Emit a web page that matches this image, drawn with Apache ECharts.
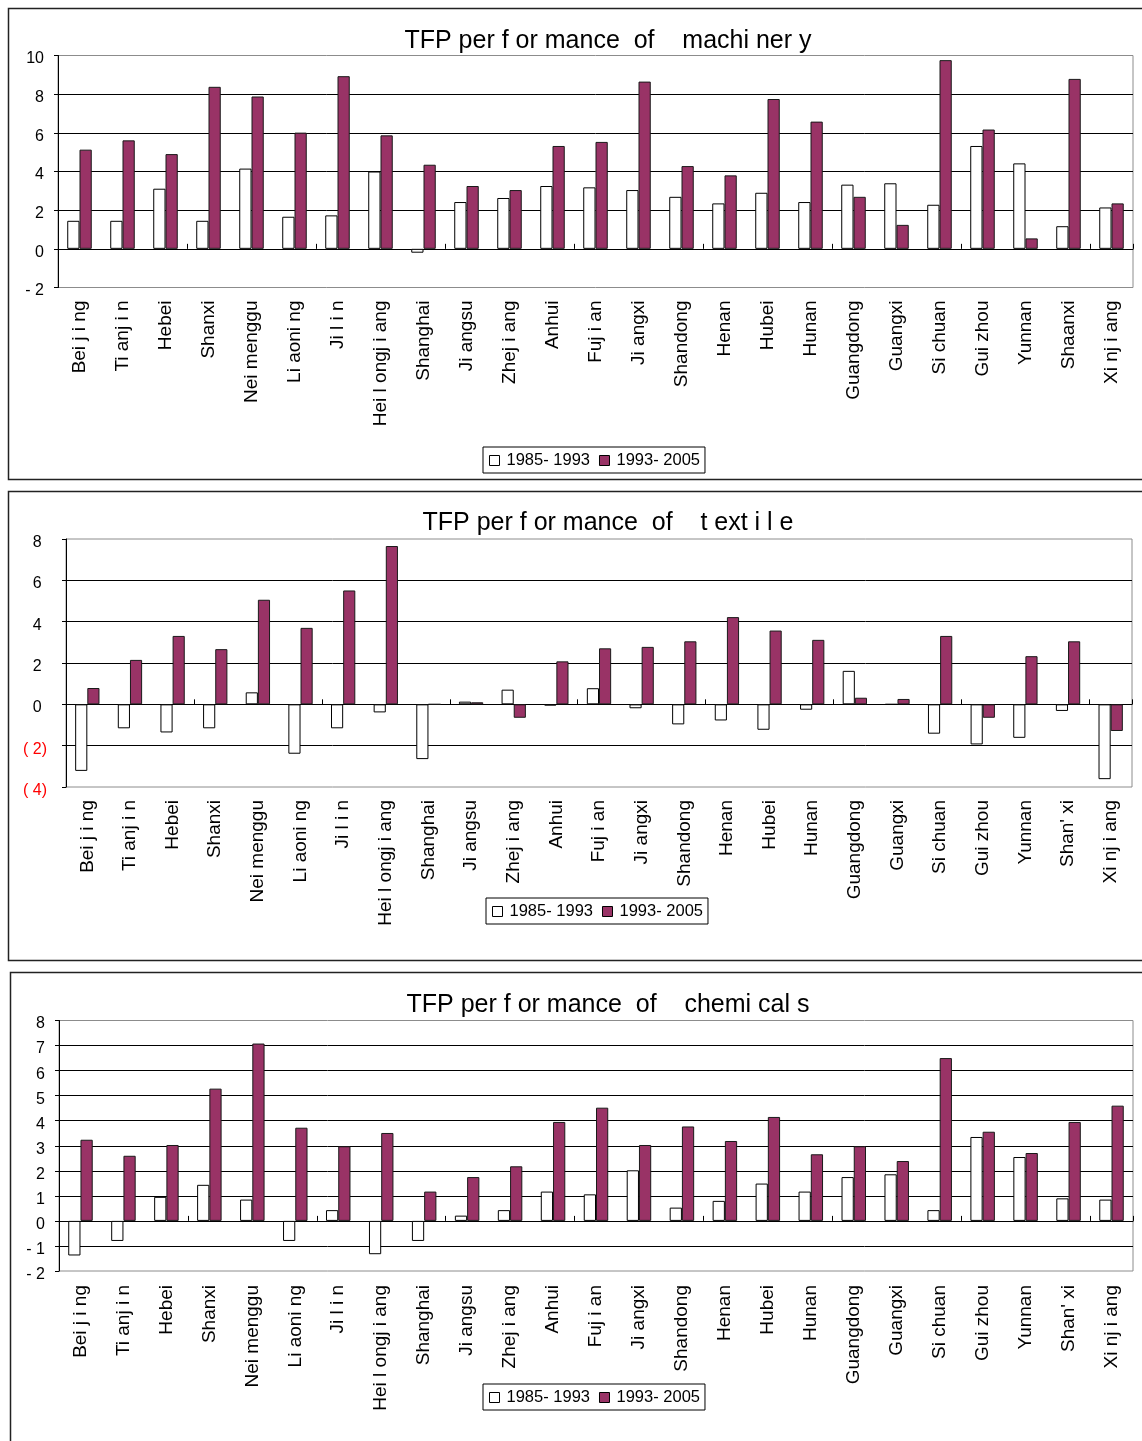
<!DOCTYPE html>
<html>
<head>
<meta charset="utf-8">
<script src="https://cdn.jsdelivr.net/npm/echarts@6/dist/echarts.min.js"></script>
<style>
  html, body { margin: 0; padding: 0; background: #fff; }
  #chart { width: 1142px; height: 1441px; }
</style>
</head>
<body>
<div id="chart"></div>
<script>
// Provinces (labels as set in the original tables)
const provincesA = ['Bei j i ng','Ti anj i n','Hebei','Shanxi','Nei menggu','Li aoni ng','Ji l i n','Hei l ongj i ang','Shanghai','Ji angsu','Zhej i ang','Anhui','Fuj i an','Ji angxi','Shandong','Henan','Hubei','Hunan','Guangdong','Guangxi','Si chuan','Gui zhou','Yunnan','Shaanxi','Xi nj i ang'];
const provincesB = ['Bei j i ng','Ti anj i n','Hebei','Shanxi','Nei menggu','Li aoni ng','Ji l i n','Hei l ongj i ang','Shanghai','Ji angsu','Zhej i ang','Anhui','Fuj i an','Ji angxi','Shandong','Henan','Hubei','Hunan','Guangdong','Guangxi','Si chuan','Gui zhou','Yunnan',"Shan' xi",'Xi nj i ang'];

const periods = ['1985- 1993', '1993- 2005'];

// TFP growth, machinery
const machinery8593 = [1.45,1.45,3.11,1.45,4.15,1.66,1.73,4.0,-0.2,2.42,2.63,3.25,3.18,3.04,2.69,2.35,2.9,2.42,3.32,3.39,2.28,5.32,4.42,1.17,2.14];
const machinery9305 = [5.13,5.61,4.9,8.38,7.88,6.01,8.93,5.87,4.35,3.25,3.04,5.32,5.53,8.65,4.28,3.8,7.75,6.58,2.69,1.24,9.76,6.17,0.54,8.79,2.35];

// TFP growth, textile
const textile8593 = [-3.22,-1.16,-1.36,-1.16,0.58,-2.39,-1.16,-0.39,-2.65,0.13,0.71,-0.06,0.78,-0.19,-0.97,-0.78,-1.23,-0.26,1.62,0,-1.42,-1.94,-1.62,-0.32,-3.62];
const textile9305 = [0.79,2.15,3.31,2.67,5.06,3.7,5.51,7.66,0,0.1,-0.65,2.08,2.71,2.78,3.05,4.22,3.57,3.12,0.32,0.26,3.31,-0.65,2.33,3.05,-1.29];

// TFP growth, chemicals
const chemicals8593 = [-1.38,-0.8,0.96,1.44,0.85,-0.8,0.43,-1.33,-0.8,0.21,0.43,1.17,1.06,2.02,0.53,0.8,1.49,1.17,1.75,1.86,0.43,3.35,2.55,0.9,0.85];
const chemicals9305 = [3.24,2.6,3.03,5.28,7.08,3.72,2.98,3.51,1.17,1.75,2.18,3.95,4.52,3.03,3.77,3.19,4.15,2.66,2.98,2.39,6.5,3.56,2.71,3.95,4.6];

const titles = ['TFP per f or mance  of    machi ner y', 'TFP per f or mance  of    t ext i l e', 'TFP per f or mance  of    chemi cal s'];

const FONT = "'Liberation Sans', Arial, sans-serif";
const PLUM = '#993366';

const panels = [
  { cats: provincesA, a: machinery8593, b: machinery9305, min: -2, max: 10, step: 2,
    grid: { left: 58, top: 55.5, width: 1075, height: 232 },
    titleTop: 24, legend: { left: 483, top: 447 }, labelMargin: 13, fmt: 'dash' },
  { cats: provincesB, a: textile8593, b: textile9305, min: -4, max: 8, step: 2,
    grid: { left: 66, top: 539, width: 1066, height: 248 },
    titleTop: 506, legend: { left: 486, top: 898 }, labelMargin: 13, fmt: 'paren' },
  { cats: provincesB, a: chemicals8593, b: chemicals9305, min: -2, max: 8, step: 1,
    grid: { left: 59, top: 1020.5, width: 1074, height: 250.5 },
    titleTop: 988, legend: { left: 483, top: 1384 }, labelMargin: 14, fmt: 'dash' }
];

const option = {
  animation: false,
  backgroundColor: '#fff',
  textStyle: { fontFamily: FONT },
  title: [], legend: [], grid: [], xAxis: [], yAxis: [], series: [],
  graphic: [
    { type: 'rect', shape: { x: 8.5, y: 8.5, width: 1150, height: 471 }, style: { fill: 'none', stroke: '#222', lineWidth: 1.5 }, silent: true },
    { type: 'rect', shape: { x: 8.5, y: 491.5, width: 1150, height: 469 }, style: { fill: 'none', stroke: '#222', lineWidth: 1.5 }, silent: true },
    { type: 'rect', shape: { x: 10.5, y: 972.5, width: 1150, height: 480 }, style: { fill: 'none', stroke: '#222', lineWidth: 1.5 }, silent: true }
  ]
};

panels.forEach((p, i) => {
  option.title.push({
    text: titles[i], left: 603, top: p.titleTop, textAlign: 'center',
    textStyle: { fontFamily: FONT, fontSize: 25, fontWeight: 'normal', color: '#000' }
  });
  option.legend.push({
    left: p.legend.left, top: p.legend.top,
    orient: 'horizontal', icon: 'rect', itemWidth: 10, itemHeight: 10, itemGap: 9,
    padding: [5, 5, 4, 6], borderColor: '#000', borderWidth: 1, backgroundColor: '#fff',
    textStyle: { fontFamily: FONT, fontSize: 16.5, color: '#000', padding: [10, 0, 0, 2] },
    data: [
      { name: periods[0], itemStyle: { color: '#fff', borderColor: '#000', borderWidth: 1 } },
      { name: periods[1], itemStyle: { color: PLUM, borderColor: '#000', borderWidth: 1 } }
    ],
    selectedMode: false
  });
  option.grid.push(Object.assign({ show: true, borderColor: '#8c8c8c', borderWidth: 1, backgroundColor: 'transparent' }, p.grid));

  // category axis carrying the labels, at the bottom of the plot
  option.xAxis.push({
    type: 'category', gridIndex: i, data: p.cats, position: 'bottom',
    axisLine: { show: false, onZero: false }, axisTick: { show: false },
    axisLabel: { interval: 0, rotate: 90, margin: p.labelMargin, fontFamily: FONT, fontSize: 19, color: '#000' },
    splitLine: { show: false }
  });
  // same categories, drawn as the zero line with its inner ticks
  option.xAxis.push({
    type: 'category', gridIndex: i, data: p.cats, position: 'bottom',
    axisLine: { show: true, onZero: true, lineStyle: { color: '#000', width: 1 } },
    axisTick: { show: true, inside: true, length: 5, lineStyle: { color: '#000' } },
    axisLabel: { show: false }, splitLine: { show: false }
  });

  let formatter;
  if (p.fmt === 'paren') {
    formatter = v => v < 0 ? '{neg|( ' + (-v) + ')}' : '{pos|' + v + '}{pad|)}';
  } else {
    formatter = v => v < 0 ? '- ' + (-v) : String(v);
  }
  option.yAxis.push({
    type: 'value', gridIndex: i, min: p.min, max: p.max, interval: p.step,
    axisLine: { show: true, lineStyle: { color: '#000' } },
    axisTick: { show: true, length: 4, lineStyle: { color: '#000' } },
    splitLine: { show: true, showMinLine: false, showMaxLine: false, lineStyle: { color: '#000', width: 1 } },
    axisLabel: {
      margin: p.fmt === 'paren' ? 19 : 14, fontFamily: FONT, fontSize: 16, color: '#000',
      padding: [7, 0, 0, 0],
      formatter: formatter,
      rich: {
        neg: { color: '#ff0000', fontSize: 16, fontFamily: FONT },
        pos: { color: '#000', fontSize: 16, fontFamily: FONT },
        pad: { color: 'transparent', fontSize: 16, fontFamily: FONT }
      }
    }
  });

  option.series.push({
    name: periods[0], type: 'bar', xAxisIndex: i * 2, yAxisIndex: i, data: p.a,
    barGap: '0%', barCategoryGap: '43%',
    itemStyle: { color: '#fff', borderColor: '#000', borderWidth: 1 }
  });
  option.series.push({
    name: periods[1], type: 'bar', xAxisIndex: i * 2, yAxisIndex: i, data: p.b,
    barGap: '0%', barCategoryGap: '43%',
    itemStyle: { color: PLUM, borderColor: '#1a1a1a', borderWidth: 1 }
  });
});

const chart = echarts.init(document.getElementById('chart'), null, { renderer: 'canvas' });
chart.setOption(option);
</script>
</body>
</html>
